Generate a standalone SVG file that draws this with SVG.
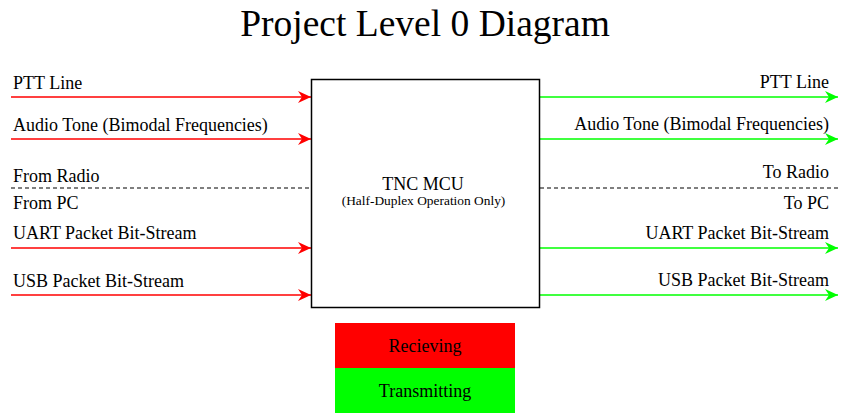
<svg xmlns="http://www.w3.org/2000/svg" width="852" height="414" viewBox="0 0 852 414">
<style>
text{font-family:"Liberation Serif","Times New Roman",serif;fill:#000}
.l{font-size:18px}
.r{font-size:18px;text-anchor:end}
.c{text-anchor:middle}
.rx{stroke:#f00;stroke-width:1.3;fill:none}
.tx{stroke:#0f0;stroke-width:1.3;fill:none}
.d{stroke:#000;stroke-width:1.2;stroke-dasharray:4 3;fill:none}
</style>
<defs>
<marker id="ar" markerUnits="userSpaceOnUse" markerWidth="14" markerHeight="14" refX="13" refY="7" orient="auto">
<path d="M0,1 L13,7 L0,13 L4,7 Z" fill="#f00"/>
</marker>
<marker id="ag" markerUnits="userSpaceOnUse" markerWidth="14" markerHeight="14" refX="13" refY="7" orient="auto">
<path d="M0,1 L13,7 L0,13 L4,7 Z" fill="#0f0"/>
</marker>
</defs>
<rect width="852" height="414" fill="#fff"/>
<text x="425" y="36" class="c" font-size="37.5">Project Level 0 Diagram</text>
<g id="connectors">
<line class="rx" x1="11" y1="97" x2="311" y2="97" marker-end="url(#ar)"/>
<line class="rx" x1="11" y1="139" x2="311" y2="139" marker-end="url(#ar)"/>
<line class="rx" x1="11" y1="248" x2="311" y2="248" marker-end="url(#ar)"/>
<line class="rx" x1="11" y1="295" x2="311" y2="295" marker-end="url(#ar)"/>
<line class="tx" x1="540" y1="97" x2="838" y2="97" marker-end="url(#ag)"/>
<line class="tx" x1="540" y1="139" x2="838" y2="139" marker-end="url(#ag)"/>
<line class="tx" x1="540" y1="248" x2="838" y2="248" marker-end="url(#ag)"/>
<line class="tx" x1="540" y1="295" x2="838" y2="295" marker-end="url(#ag)"/>
<line class="d" x1="11" y1="188" x2="311" y2="188"/>
<line class="d" x1="540" y1="188" x2="838" y2="188"/>
</g>
<g id="labels-left">
<text class="l" x="13" y="89">PTT Line</text>
<text class="l" x="13" y="131">Audio Tone (Bimodal Frequencies)</text>
<text class="l" x="13" y="182">From Radio</text>
<text class="l" x="13" y="209">From PC</text>
<text class="l" x="13" y="239">UART Packet Bit-Stream</text>
<text class="l" x="13" y="287">USB Packet Bit-Stream</text>
</g>
<g id="labels-right">
<text class="r" x="829" y="88">PTT Line</text>
<text class="r" x="829" y="130">Audio Tone (Bimodal Frequencies)</text>
<text class="r" x="829" y="178">To Radio</text>
<text class="r" x="829" y="209">To PC</text>
<text class="r" x="829" y="239">UART Packet Bit-Stream</text>
<text class="r" x="829" y="286">USB Packet Bit-Stream</text>
</g>
<g id="tnc-mcu">
<rect x="311.5" y="79.5" width="228" height="228" fill="#fff" stroke="#000" stroke-width="1.5"/>
<text x="423" y="190" class="c" font-size="18">TNC MCU</text>
<text x="423.5" y="205" class="c" font-size="13.4">(Half-Duplex Operation Only)</text>
</g>
<g id="legend-receiving">
<rect x="335" y="323" width="180" height="45" fill="#f00"/>
<text x="425" y="352" class="c" font-size="18">Recieving</text>
</g>
<g id="legend-transmitting">
<rect x="335" y="368" width="180" height="45" fill="#0f0"/>
<text x="425" y="397" class="c" font-size="18">Transmitting</text>
</g>
</svg>
